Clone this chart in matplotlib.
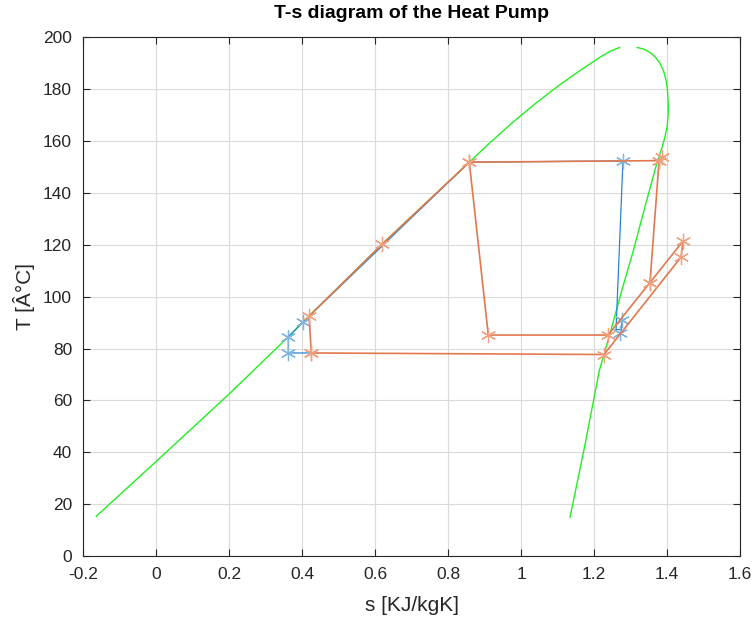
import numpy as np
import matplotlib
matplotlib.use('Agg')
import matplotlib.pyplot as plt

plt.rcParams['font.family'] = ['Liberation Sans', 'DejaVu Sans']

# saturation dome, liquid branch and vapour branch
liq_s = [-0.164, 0.0, 0.2, 0.362, 0.403, 0.419, 0.619, 0.858, 0.92, 0.98, 1.04, 1.10,
         1.15, 1.19, 1.22, 1.245, 1.27]
liq_T = [15.4, 36.5, 62.5, 84.5, 90.3, 92.5, 120.2, 151.8, 160.0, 167.5, 174.5, 181.0,
         186.0, 189.8, 192.6, 194.6, 196.0]
vap_s = [1.318, 1.335, 1.352, 1.367, 1.380, 1.390, 1.397, 1.401, 1.403, 1.403, 1.400,
         1.394, 1.386, 1.373, 1.340, 1.307, 1.275, 1.244, 1.214, 1.175, 1.134]
vap_T = [196.0, 195.4, 194.2, 192.4, 190.0, 187.0, 183.5, 179.5, 175.0, 170.0, 165.5,
         161.5, 157.5, 152.0, 135.0, 117.5, 102.0, 86.0, 71.4, 43.0, 15.0]

# blue cycle
blue_s = [0.425, 0.362, 0.362, 0.403, 0.858, 1.279, 1.260, 1.274, 1.277]
blue_T = [78.3, 78.3, 84.5, 90.3, 151.8, 152.3, 87.3, 87.3, 91.0]
blue_mark_s = [0.362, 0.362, 0.403, 1.279, 1.277, 1.271]
blue_mark_T = [78.3, 84.5, 90.3, 152.3, 91.0, 85.8]
blue_tail_s = [1.274, 1.271]
blue_tail_T = [87.3, 85.8]

# orange cycle
or1_s = [0.425, 0.419, 0.619, 0.858, 1.378, 1.353, 1.444, 1.438, 1.227, 0.425]
or1_T = [78.3, 92.5, 120.2, 151.8, 152.4, 105.4, 121.5, 115.2, 77.7, 78.3]
or2_s = [0.858, 0.910, 1.238, 1.353]
or2_T = [151.8, 85.2, 85.2, 105.4]
or3_s = [1.378, 1.386]
or3_T = [152.4, 153.8]

blue = '#2A86C8'
orange = '#E2784E'
ast = (6, 2, 0)  # matlab style asterisk

fig = plt.figure(figsize=(7.56, 6.18), dpi=100)
ax = fig.add_axes([0.110, 0.100, 0.869, 0.840])

ax.plot(liq_s, liq_T, color='#22EE22', lw=1.0)
ax.plot(vap_s, vap_T, color='#22EE22', lw=1.0)

ax.plot(blue_s, blue_T, color=blue, lw=0.9)
ax.plot(blue_tail_s, blue_tail_T, color=blue, lw=0.9)
ax.plot(blue_mark_s, blue_mark_T, ls='none', marker=ast, color='#7FB5DE', ms=11,
        mew=0.9)

for xs, ys in [(or1_s, or1_T), (or2_s, or2_T), (or3_s, or3_T)]:
    ax.plot(xs, ys, color=orange, lw=1.2, marker=ast, ms=11, mew=0.9,
            mec='#EFA07F')

ax.set_xlim(-0.2, 1.6)
ax.set_ylim(0, 200)
ax.set_xticks(np.arange(-0.2, 1.61, 0.2))
ax.set_xticklabels(['-0.2', '0', '0.2', '0.4', '0.6', '0.8', '1', '1.2', '1.4', '1.6'])
ax.set_yticks(np.arange(0, 201, 20))
ax.grid(True, color='#DADADA', lw=0.8)
ax.set_axisbelow(True)
ax.tick_params(direction='in', top=True, right=True, labelsize=12.5,
               colors='#262626', length=5, pad=8)
for sp in ax.spines.values():
    sp.set_color('#262626')
    sp.set_linewidth(0.8)

ax.set_title('T-s diagram of the Heat Pump', fontsize=14, fontweight='bold', pad=14)
ax.set_xlabel('s [KJ/kgK]', fontsize=15, color='#262626', labelpad=10)
ax.set_ylabel('T [Â°C]', fontsize=15, color='#262626', labelpad=6)

fig.savefig('out.png', dpi=100)
